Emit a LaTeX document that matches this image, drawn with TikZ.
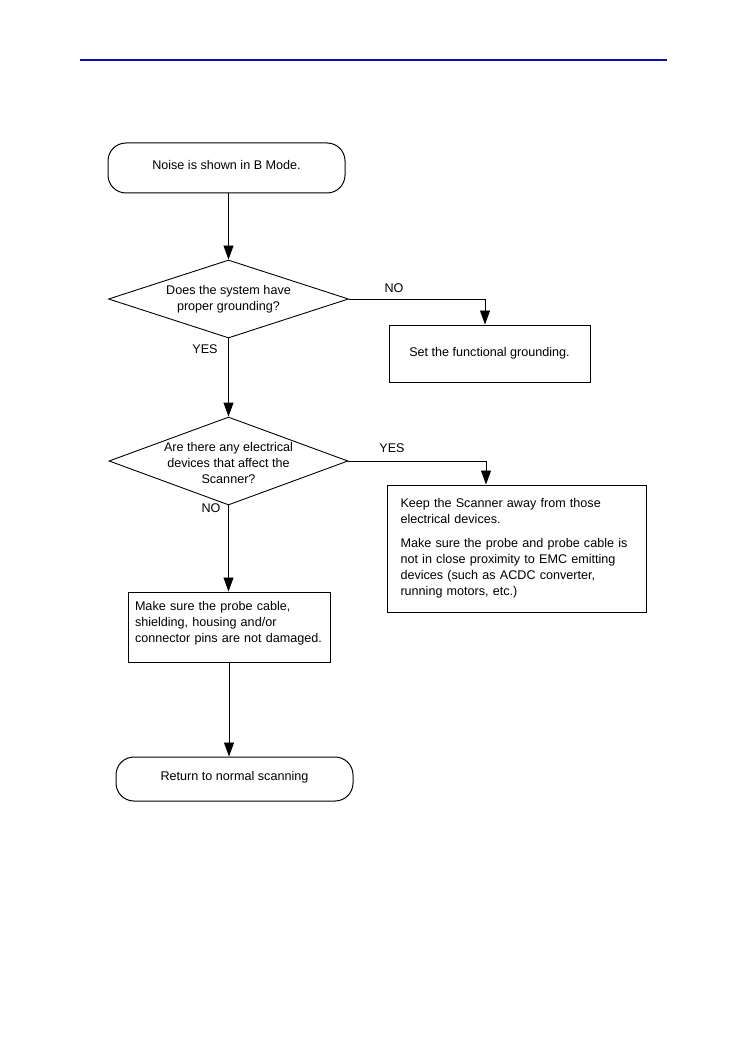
\documentclass[tikz,border=0pt]{standalone}
\usepackage{fontspec}
\setmainfont{Liberation Sans}
\usetikzlibrary{shapes.geometric,arrows.meta}
\definecolor{hdr}{RGB}{15,15,170}
\begin{document}
\begin{tikzpicture}[x=1pt,y=-1pt,
  every node/.style={font=\fontsize{12.6}{16}\selectfont},
  term/.style={draw,rounded corners=18pt,line width=1pt,inner sep=0pt},
  dec/.style={draw,diamond,line width=0.9pt,inner sep=0pt},
  proc/.style={draw,line width=1pt,inner sep=0pt},
  conn/.style={line width=0.9pt,-{Triangle[length=14pt,width=10pt]}},
  lbl/.style={inner sep=0pt}]
\useasboundingbox (0,0) rectangle (749,1064);
\draw[hdr,line width=1.3pt] (80,60) -- (667,60);

\node[term,minimum width=237pt,minimum height=50pt] (t1) at (226.5,168) {Noise is shown in B Mode.\rule[-6pt]{0pt}{0pt}};
\node[dec,minimum width=240pt,minimum height=78pt,
  label={[align=center,inner sep=0pt]center:Does the system have\\proper grounding?}] (d1) at (228.5,299) {};
\node[proc,minimum width=201pt,minimum height=57pt] (b1) at (489.5,353.5) {Set the functional grounding.};
\node[dec,minimum width=239pt,minimum height=88pt,
  label={[align=center,inner sep=0pt,yshift=-2pt]center:Are there any electrical\\devices that affect the\\Scanner?}] (d2) at (228.5,461) {};
\node[proc,minimum width=259pt,minimum height=127pt,text width=232pt,align=left] (b2) at (516.5,548.5)
  {Keep the Scanner away from those\\electrical devices.\\[8pt]Make sure the probe and probe cable is\\not in close proximity to EMC emitting\\devices (such as ACDC converter,\\running motors, etc.)};
\node[proc,minimum width=202pt,minimum height=70pt,text width=188pt,align=left] (b3) at (229,627)
  {Make sure the probe cable,\\shielding, housing and/or\\connector pins are not damaged.\rule[-10pt]{0pt}{0pt}};
\node[term,minimum width=237pt,minimum height=44pt] (t2) at (234.5,779) {Return to normal scanning\rule[-6pt]{0pt}{0pt}};

\node[lbl] (l1) at (394,288) {NO};
\node[lbl] (l2) at (205,349) {YES};
\node[lbl] (l3) at (392,448) {YES};
\node[lbl] (l4) at (211,508) {NO};

\draw[conn] (d1.north |- t1.south) -- (d1.north);
\draw[conn] (d1.east) -| ([xshift=-4.5pt]b1.north);
\draw[conn] (d1.south) -- (d2.north);
\draw[conn] (d2.east) -| ([xshift=-30.5pt]b2.north);
\draw[conn] (d2.south) -- (d2.south |- b3.north);
\draw[conn] (b3.south) -- (b3.south |- t2.north);
\end{tikzpicture}
\end{document}
